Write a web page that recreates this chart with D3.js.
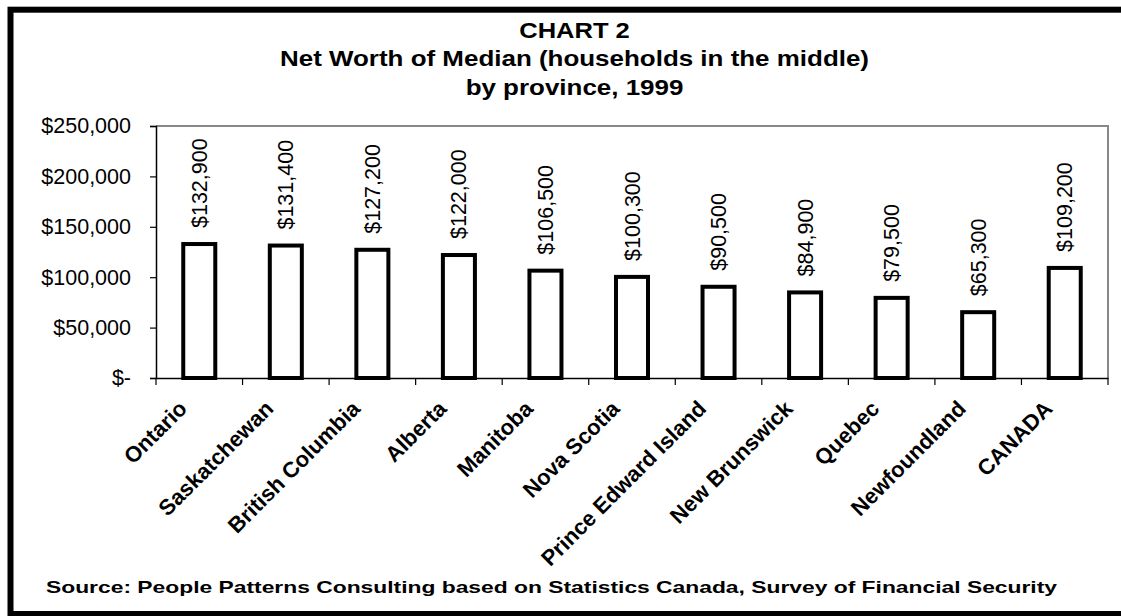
<!DOCTYPE html>
<html>
<head>
<meta charset="utf-8">
<script src="https://cdn.jsdelivr.net/npm/d3@7"></script>
<style>
  body { margin: 0; background: #fff; }
  svg { display: block; font-family: "Liberation Sans", Arial, Helvetica, sans-serif; }
</style>
</head>
<body>
<svg id="chart" width="1121" height="616"></svg>
<script>
// Median household net worth by province, 1999
const provinces = ["Ontario", "Saskatchewan", "British Columbia", "Alberta", "Manitoba",
  "Nova Scotia", "Prince Edward Island", "New Brunswick", "Quebec", "Newfoundland", "CANADA"];
const netWorth = [132900, 131400, 127200, 122000, 106500, 100300, 90500, 84900, 79500, 65300, 109200];
const yTicks = [0, 50000, 100000, 150000, 200000, 250000];
const titleLines = ["CHART 2", "Net Worth of Median (households in the middle)", "by province, 1999"];
const sourceNote = "Source:  People Patterns Consulting based on Statistics Canada, Survey of Financial Security";

const svg = d3.select("#chart");
const plot = { left: 156, right: 1108, top: 126, bottom: 378 };

const x = d3.scaleBand().domain(provinces).range([plot.left, plot.right]).padding(0);
const y = d3.scaleLinear().domain([0, 250000]).range([plot.bottom, plot.top]);
const money = v => v === 0 ? "$-" : "$" + d3.format(",")(v);
const barW = x.bandwidth() * 0.37;

// outer frame
svg.append("rect")
  .attr("x", 10.5).attr("y", 9.7)
  .attr("width", 1140).attr("height", 604.3)
  .attr("fill", "#fff").attr("stroke", "#000").attr("stroke-width", 6);

// title, three centred lines in a slightly widened bold face
const titleBase = [38, 66, 95];
const titleWiden = [1.16, 1.18, 1.18];
svg.append("g").selectAll("text").data(titleLines).join("text")
  .attr("transform", (d, i) => `translate(574.5,${titleBase[i]}) scale(${titleWiden[i]},1)`)
  .attr("text-anchor", "middle")
  .attr("font-weight", "bold")
  .attr("font-size", 22)
  .attr("fill", "#000")
  .text(d => d);

// plot area border (top and right)
svg.append("path")
  .attr("d", `M${plot.left},${plot.top}H${plot.right}V${plot.bottom}`)
  .attr("fill", "none").attr("stroke", "#888").attr("stroke-width", 2);

// y axis
const yAxis = svg.append("g")
  .attr("transform", `translate(${plot.left},0)`)
  .call(d3.axisLeft(y).tickValues(yTicks).tickSize(6).tickPadding(19).tickFormat(money));
yAxis.select(".domain").attr("stroke", "#000").attr("stroke-width", 1.5);
yAxis.selectAll(".tick line").attr("stroke", "#000").attr("stroke-width", 1.2);
yAxis.selectAll(".tick text")
  .attr("font-size", 21.5)
  .attr("font-family", "'Liberation Sans', Arial, sans-serif")
  .attr("fill", "#000");

// bars
svg.append("g").selectAll("rect").data(provinces).join("rect")
  .attr("x", d => x(d) + (x.bandwidth() - barW) / 2)
  .attr("y", (d, i) => y(netWorth[i]))
  .attr("width", barW)
  .attr("height", (d, i) => y(0) - y(netWorth[i]))
  .attr("fill", "#fff")
  .attr("stroke", "#000")
  .attr("stroke-width", 4);

// x axis line and category boundary ticks
const xAxis = svg.append("g")
  .attr("transform", `translate(0,${plot.bottom})`)
  .call(d3.axisBottom(x).tickSize(0).tickFormat(""));
xAxis.select(".domain").attr("stroke", "#000").attr("stroke-width", 1.5);
svg.append("g").selectAll("line").data(provinces.map(p => x(p)).concat([x.range()[1]])).join("line")
  .attr("x1", d => d).attr("x2", d => d)
  .attr("y1", plot.bottom).attr("y2", plot.bottom + 7)
  .attr("stroke", "#000").attr("stroke-width", 1.2);

// value labels
svg.append("g").selectAll("text").data(provinces).join("text")
  .attr("transform", (d, i) => `translate(${x(d) + x.bandwidth() / 2},${y(netWorth[i]) - 16}) rotate(-90)`)
  .attr("dy", "0.35em")
  .attr("text-anchor", "start")
  .attr("font-size", 21.5)
  .attr("fill", "#000")
  .text((d, i) => money(netWorth[i]));

// category labels
svg.append("g").selectAll("text").data(provinces).join("text")
  .attr("transform", d => `translate(${x(d) + x.bandwidth() / 2 - 11},410) rotate(-45)`)
  .attr("text-anchor", "end")
  .attr("font-weight", "bold")
  .attr("font-size", 22)
  .attr("fill", "#000")
  .text(d => d);

// source note
svg.append("text")
  .attr("x", 46).attr("y", 593)
  .attr("font-weight", "bold")
  .attr("font-size", 16.5)
  .attr("textLength", 1011)
  .attr("lengthAdjust", "spacingAndGlyphs")
  .attr("fill", "#000")
  .text(sourceNote);
</script>
</body>
</html>
